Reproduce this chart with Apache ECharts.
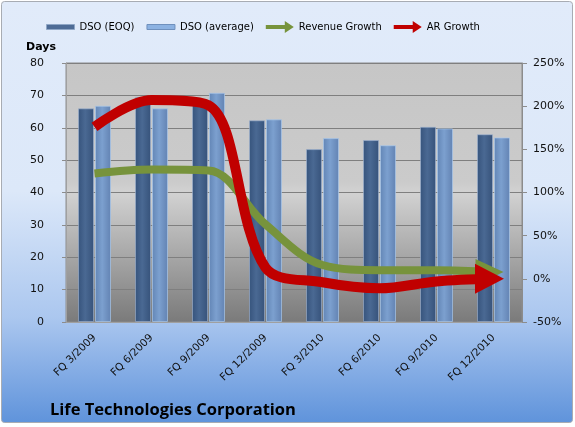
<!DOCTYPE html>
<html>
<head>
<meta charset="utf-8">
<script src="https://cdn.jsdelivr.net/npm/echarts@6/dist/echarts.min.js"></script>
<style>
  html, body { margin: 0; padding: 0; background: #fff; }
  #chart { width: 575px; height: 427px; }
</style>
</head>
<body>
<div id="chart"></div>
<script>
const categories = ['FQ 3/2009', 'FQ 6/2009', 'FQ 9/2009', 'FQ 12/2009', 'FQ 3/2010', 'FQ 6/2010', 'FQ 9/2010', 'FQ 12/2010']
const dsoEoq = [66, 69.5, 68.8, 62.3, 53.4, 56.2, 60.3, 58]
const dsoAvg = [66.8, 66, 70.8, 62.6, 56.8, 54.6, 59.8, 57]
const revenueGrowth = [122, 126.5, 125.5, 63, 16, 10, 10, 8]
const arGrowth = [176, 207, 201, 13, -4, -11, -3, 0]

const chart = echarts.init(document.getElementById('chart'), null, { renderer: 'canvas' })

const font = 'DejaVu Sans'
const arrowIcon = 'path://M0,4 L19,4 L19,0 L28,6 L19,12 L19,8 L0,8 Z'
const barIcon = 'path://M0,0 L28,0 L28,5 L0,5 Z'
const last = categories.length - 1

function barGrad(c1, c2, c3) {
  return new echarts.graphic.LinearGradient(0, 0, 1, 0, [
    { offset: 0, color: c1 },
    { offset: 0.45, color: c2 },
    { offset: 1, color: c3 }
  ])
}

// arrow head only on the last point
function arrowHead(v, p) {
  return p.dataIndex === last ? 'triangle' : 'none'
}

const option = {
  animation: false,
  backgroundColor: '#ffffff',
  graphic: [{
    type: 'rect',
    z: -100,
    silent: true,
    shape: { x: 1.5, y: 1.5, width: 571, height: 421, r: 3 },
    style: {
      fill: new echarts.graphic.LinearGradient(0, 0, 0, 1, [
        { offset: 0, color: '#e1ebfa' },
        { offset: 0.45, color: '#dce8f9' },
        { offset: 0.75, color: '#abc7ef' },
        { offset: 1, color: '#5f93db' }
      ]),
      stroke: '#a8acb3',
      lineWidth: 1
    }
  }],
  title: {
    text: 'Life Technologies Corporation',
    left: 45,
    top: 397,
    textStyle: { fontFamily: 'Open Sans', fontWeight: 'bold', fontSize: 16.5, color: '#000' }
  },
  legend: {
    top: 16,
    left: 41,
    itemWidth: 28,
    itemHeight: 12,
    itemGap: 12,
    textStyle: { fontFamily: font, fontSize: 10, color: '#000' },
    data: [
      { name: 'DSO (EOQ)', icon: barIcon, itemStyle: { color: '#4e6c96', borderColor: '#8ea6c6', borderWidth: 1 } },
      { name: 'DSO (average)', icon: barIcon, itemStyle: { color: '#8cb2e2', borderColor: '#6f90bd', borderWidth: 1 } },
      { name: 'Revenue Growth', icon: arrowIcon, itemStyle: { color: '#77933c' } },
      { name: 'AR Growth', icon: arrowIcon, itemStyle: { color: '#c00000' } }
    ]
  },
  grid: {
    left: 66,
    right: 53,
    top: 63,
    bottom: 105,
    show: true,
    borderColor: '#8c8c8c',
    borderWidth: 1,
    backgroundColor: new echarts.graphic.LinearGradient(0, 0, 0, 1, [
      { offset: 0, color: '#c6c6c6' },
      { offset: 0.46, color: '#cbcbcb' },
      { offset: 0.5, color: '#d2d2d2' },
      { offset: 1, color: '#7a7a7a' }
    ])
  },
  xAxis: {
    type: 'category',
    data: categories,
    axisLine: { lineStyle: { color: '#a0a0a0' } },
    axisTick: { length: 5, lineStyle: { color: '#8c8c8c' } },
    axisLabel: { rotate: 45, interval: 0, margin: 14, fontFamily: font, fontSize: 10.5, color: '#111' }
  },
  yAxis: [
    {
      type: 'value',
      min: 0,
      max: 80,
      interval: 10,
      name: 'Days',
      nameGap: 10,
      nameTextStyle: { fontFamily: font, fontSize: 11, fontWeight: 'bold', color: '#000', align: 'right', padding: [0, 10, 0, 0] },
      axisLine: { show: true, lineStyle: { color: '#a0a0a0' } },
      axisTick: { show: true, length: 4, lineStyle: { color: '#8c8c8c' } },
      axisLabel: { margin: 22, fontFamily: font, fontSize: 11, color: '#111' },
      splitLine: { lineStyle: { color: '#7f7f7f', width: 1 } }
    },
    {
      type: 'value',
      min: -50,
      max: 250,
      interval: 50,
      axisLine: { show: true, lineStyle: { color: '#8c8c8c' } },
      axisTick: { show: true, length: 5, lineStyle: { color: '#8c8c8c' } },
      axisLabel: { margin: 11, fontFamily: font, fontSize: 11, color: '#111', formatter: '{value}%' },
      splitLine: { show: false }
    }
  ],
  series: [
    {
      name: 'DSO (EOQ)',
      type: 'bar',
      data: dsoEoq,
      barWidth: 16,
      barGap: '6%',
      itemStyle: { color: barGrad('#36537c', '#4a6993', '#36527a'), borderColor: 'rgba(160,180,210,0.6)', borderWidth: 1 }
    },
    {
      name: 'DSO (average)',
      type: 'bar',
      data: dsoAvg,
      barWidth: 16,
      itemStyle: { color: barGrad('#6285b5', '#7ca0cf', '#6282b2'), borderColor: 'rgba(170,200,235,0.7)', borderWidth: 1 }
    },
    {
      name: 'Revenue Growth',
      type: 'line',
      yAxisIndex: 1,
      data: revenueGrowth,
      smooth: 0.35,
      showSymbol: true,
      symbol: arrowHead,
      symbolSize: [26, 28],
      symbolRotate: -90,
      symbolOffset: [-4, 0],
      itemStyle: { color: '#77933c', borderWidth: 0 },
      lineStyle: { color: '#77933c', width: 8, cap: 'butt' },
      z: 3
    },
    {
      name: 'AR Growth',
      type: 'line',
      yAxisIndex: 1,
      data: arGrowth,
      smooth: 0.35,
      showSymbol: true,
      symbol: arrowHead,
      symbolSize: [30, 29],
      symbolRotate: -90,
      symbolOffset: [-4, 0],
      itemStyle: { color: '#c00000', borderWidth: 0 },
      lineStyle: { color: '#c00000', width: 10, cap: 'butt' },
      z: 4
    }
  ]
}

chart.setOption(option)
</script>
</body>
</html>
